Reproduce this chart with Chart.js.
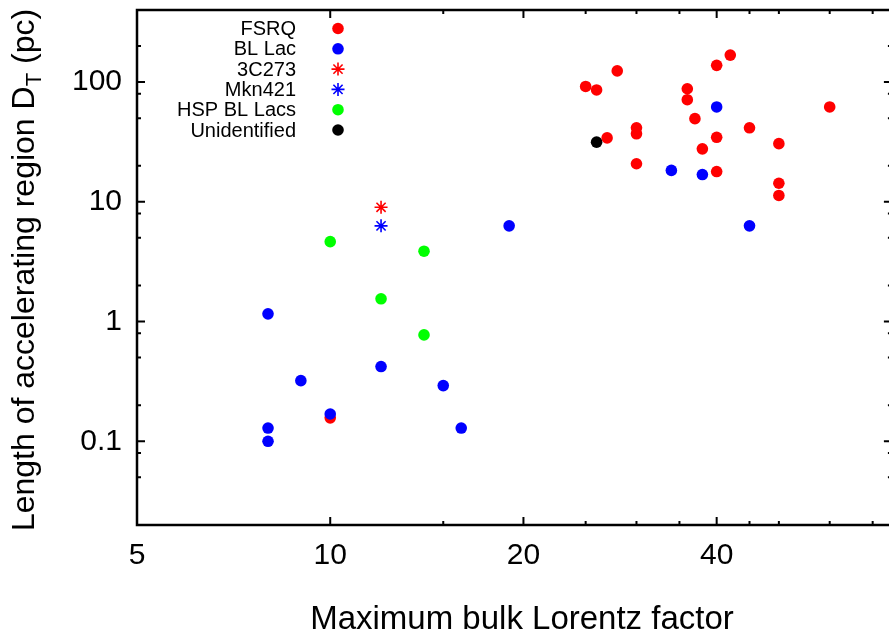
<!DOCTYPE html>
<html>
<head>
<meta charset="utf-8">
<script src="https://cdn.jsdelivr.net/npm/chart.js@4.4.0/dist/chart.umd.min.js"></script>
<style>
    html, body { margin: 0; padding: 0; background: #fff; overflow: hidden; }
    #wrap { position: absolute; left: 0; top: 0; width: 900px; height: 635px; }
</style>
</head>
<body>
<div id="wrap"><canvas id="lorentzChart" width="900" height="635"></canvas></div>
<script>
    const FONT = '"Liberation Sans", Arial, Helvetica, sans-serif';

    // data
    const fsrqX = [25, 26, 27, 28, 30, 30, 30, 36, 36, 37, 38, 40, 40, 40, 42, 45, 50, 50, 50, 60, 10];
    const fsrqY = [92, 86, 34.2, 124, 41.5, 37, 20.8, 88, 71.3, 49.5, 27.7, 138, 34.6, 17.9, 168, 41.5, 30.6, 14.3, 11.3, 62, 0.157];
    const blLacX = [8, 8, 8, 9, 10, 12, 15, 16, 19, 34, 38, 40, 45];
    const blLacY = [1.16, 0.129, 0.1, 0.321, 0.169, 0.421, 0.292, 0.129, 6.3, 18.3, 16.9, 62, 6.3];
    const c3c273X = [12];
    const c3c273Y = [9.0];
    const mkn421X = [12];
    const mkn421Y = [6.3];
    const hspX = [10, 12, 14, 14];
    const hspY = [4.65, 1.55, 3.87, 0.774];
    const unidX = [26];
    const unidY = [31.5];

    // axis ticks
    const xTicks = [5, 10, 20, 40];
    const xMinor = [15, 25, 30, 35, 45, 50, 60, 70];
    const yTicks = [0.1, 1, 10, 100];
    const yMinor = [0.05, 0.08, 0.2, 0.5, 0.8, 2, 5, 8, 20, 50, 80, 200];

    const series = [
        { label: 'FSRQ', xs: fsrqX, ys: fsrqY, color: '#ff0000', style: 'circle' },
        { label: 'BL Lac', xs: blLacX, ys: blLacY, color: '#0000ff', style: 'circle' },
        { label: '3C273', xs: c3c273X, ys: c3c273Y, color: '#ff0000', style: 'star' },
        { label: 'Mkn421', xs: mkn421X, ys: mkn421Y, color: '#0000ff', style: 'star' },
        { label: 'HSP BL Lacs', xs: hspX, ys: hspY, color: '#00ff00', style: 'circle' },
        { label: 'Unidentified', xs: unidX, ys: unidY, color: '#000000', style: 'circle' }
    ];

    function toPoints(xs, ys) {
        return xs.map((x, i) => ({ x: x, y: ys[i] }));
    }

    const datasets = series.map((s, i) => ({
        label: s.label,
        data: toPoints(s.xs, s.ys),
        pointStyle: s.style,
        pointRadius: s.style === 'star' ? 6.5 : 5.8,
        pointBackgroundColor: s.color,
        pointBorderColor: s.color,
        pointBorderWidth: s.style === 'star' ? 1.6 : 0,
        showLine: false,
        order: series.length - i // later series drawn on top
    }));

    // gnuplot-like frame, inward ticks, legend and axis titles
    const framePlugin = {
        id: 'frame',
        afterDraw(chart) {
            const ctx = chart.ctx;
            const a = chart.chartArea;
            const xs = chart.scales.x;
            const ys = chart.scales.y;
            ctx.save();
            ctx.strokeStyle = '#000';
            ctx.lineWidth = 2.5;
            ctx.strokeRect(a.left, a.top, a.right - a.left, a.bottom - a.top);

            ctx.lineWidth = 2;
            ctx.beginPath();
            const xTick = (v, len) => {
                const px = xs.getPixelForValue(v);
                ctx.moveTo(px, a.bottom); ctx.lineTo(px, a.bottom - len);
                ctx.moveTo(px, a.top); ctx.lineTo(px, a.top + len);
            };
            const yTick = (v, len) => {
                const py = ys.getPixelForValue(v);
                ctx.moveTo(a.left, py); ctx.lineTo(a.left + len, py);
                ctx.moveTo(a.right, py); ctx.lineTo(a.right - len, py);
            };
            xTicks.forEach(v => xTick(v, 8));
            xMinor.forEach(v => xTick(v, 4));
            yTicks.forEach(v => yTick(v, 8));
            yMinor.forEach(v => yTick(v, 4));
            ctx.stroke();

            // legend: text right aligned, marker on the right
            ctx.font = '20px ' + FONT;
            ctx.textAlign = 'right';
            ctx.textBaseline = 'middle';
            series.forEach((s, i) => {
                const y = 28.5 + i * 20.3;
                ctx.fillStyle = '#000';
                ctx.fillText(s.label, 296, y + 1);
                ctx.fillStyle = s.color;
                ctx.strokeStyle = s.color;
                ctx.lineWidth = s.style === 'star' ? 1.6 : 0;
                Chart.helpers.drawPoint(ctx, {
                    pointStyle: s.style,
                    radius: s.style === 'star' ? 6.5 : 5.8,
                    rotation: 0,
                    borderWidth: s.style === 'star' ? 1.6 : 0
                }, 338, y);
            });

            // x title
            ctx.fillStyle = '#000';
            ctx.font = '33px ' + FONT;
            ctx.textAlign = 'center';
            ctx.textBaseline = 'alphabetic';
            ctx.fillText('Maximum bulk Lorentz factor', 522, 629);

            // y title with subscript
            const main = 'Length of accelerating region D';
            const sub = 'T';
            const tail = ' (pc)';
            ctx.font = '32px ' + FONT;
            const wMain = ctx.measureText(main).width;
            const wTail = ctx.measureText(tail).width;
            ctx.font = '22px ' + FONT;
            const wSub = ctx.measureText(sub).width;
            const total = wMain + wSub + wTail;
            ctx.translate(34, 270);
            ctx.rotate(-Math.PI / 2);
            ctx.textAlign = 'left';
            let x0 = -total / 2;
            ctx.font = '32px ' + FONT;
            ctx.fillText(main, x0, 0);
            ctx.font = '22px ' + FONT;
            ctx.fillText(sub, x0 + wMain, 7);
            ctx.font = '32px ' + FONT;
            ctx.fillText(tail, x0 + wMain + wSub, 0);
            ctx.restore();
        }
    };

    const ctx = document.getElementById('lorentzChart').getContext('2d');
    const lorentzChart = new Chart(ctx, {
        type: 'scatter',
        data: { datasets: datasets },
        options: {
            responsive: false,
            animation: false,
            layout: { padding: { left: 0, right: 8, top: 10, bottom: 0 } },
            plugins: {
                legend: { display: false },
                tooltip: { enabled: false }
            },
            scales: {
                x: {
                    type: 'logarithmic',
                    min: 5,
                    max: 75,
                    grid: { display: false, drawTicks: false },
                    border: { display: false },
                    afterBuildTicks: scale => { scale.ticks = xTicks.map(v => ({ value: v })); },
                    afterFit: scale => {
                        scale.height = 110;
                        scale.paddingLeft = 0;
                        scale.paddingRight = 0;
                    },
                    ticks: {
                        autoSkip: false,
                        maxRotation: 0,
                        padding: 13,
                        color: '#000',
                        font: { family: FONT, size: 30 },
                        callback: v => String(v)
                    }
                },
                y: {
                    type: 'logarithmic',
                    min: 0.02,
                    max: 400,
                    grid: { display: false, drawTicks: false },
                    border: { display: false },
                    afterBuildTicks: scale => { scale.ticks = yTicks.map(v => ({ value: v })); },
                    afterFit: scale => {
                        scale.width = 137;
                        scale.paddingTop = 0;
                        scale.paddingBottom = 0;
                    },
                    ticks: {
                        autoSkip: false,
                        padding: 15,
                        color: '#000',
                        font: { family: FONT, size: 30 },
                        callback: v => String(v)
                    }
                }
            }
        },
        plugins: [framePlugin]
    });
</script>
</body>
</html>
